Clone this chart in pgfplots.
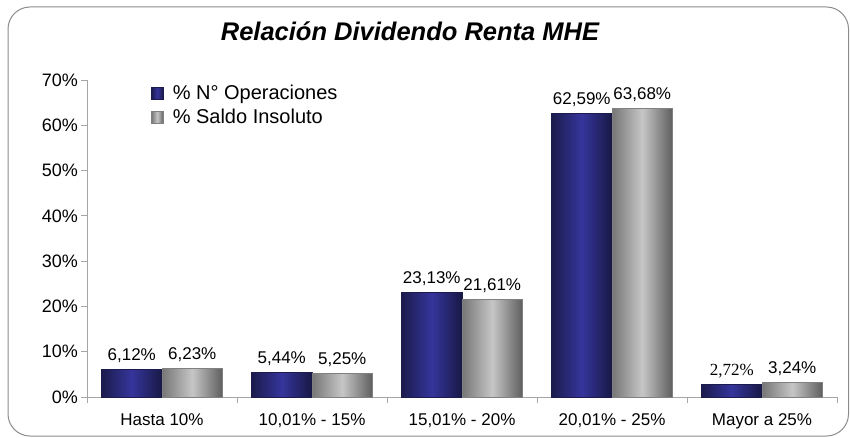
\documentclass[border=0pt]{standalone}
\usepackage{pgfplots}
\pgfplotsset{compat=1.18}
\usepackage{fontspec}
\setmainfont{Liberation Sans}
\newfontfamily\serifL{Liberation Serif}
\definecolor{bluedark}{HTML}{1B1B4D}
\definecolor{bluemid}{HTML}{35359C}
\definecolor{greydark}{HTML}{5E5E5E}
\definecolor{greyleft}{HTML}{767676}
\definecolor{greymid}{HTML}{C6C6C6}
\definecolor{axisgrey}{HTML}{A6A6A6}
\definecolor{framegrey}{HTML}{8C8C8C}
\pgfplotsset{
  blueb/.style={draw=bluedark, line width=0.5pt, left color=bluedark, right color=bluedark!90!black, middle color=bluemid, bar shift=-30.25pt},
  greyb/.style={draw=gray, line width=0.8pt, left color=greyleft, right color=greydark, middle color=greymid, bar shift=30.25pt},
}
\begin{document}
\begin{tikzpicture}[x=1pt,y=1pt]
\useasboundingbox (0,0) rectangle (850,437);
\draw[framegrey, line width=1pt, rounded corners=22pt] (8,1) rectangle (848.5,430);
\node[font=\fontsize{25.5}{30}\selectfont\bfseries\itshape] at (410,406) {Relación Dividendo Renta MHE};
\begin{axis}[
  at={(87pt,40pt)}, anchor=south west,
  scale only axis, width=750pt, height=317pt,
  ymin=0, ymax=70, xmin=-0.5, xmax=4.5,
  ybar, bar width=60.5pt,
  axis lines=left, axis line style={-, axisgrey, line width=1pt},
  ytick={0,10,...,70},
  yticklabel={\pgfmathprintnumber{\tick}\%},
  xtick={-0.5,0.5,1.5,2.5,3.5,4.5},
  xticklabels={,,,,,},
  extra x ticks={0,1,2,3,4},
  extra x tick labels={Hasta 10\%,{10,01\% - 15\%},{15,01\% - 20\%},{20,01\% - 25\%},Mayor a 25\%},
  extra x tick style={major tick length=0pt},
  tick align=outside, major tick length=5.5pt,
  tick style={axisgrey, line width=0.8pt},
  y tick label style={font=\fontsize{18}{20}\selectfont},
  x tick label style={font=\fontsize{17}{20}\selectfont, yshift=-13pt},
  /pgf/number format/assume math mode=true,
  nodes near coords, point meta=explicit symbolic,
  nodes near coords style={font=\fontsize{17}{20}\selectfont, black, yshift=3pt},
  legend style={at={(0.085,0.99)}, anchor=north west, draw=none, fill=none,
    font=\fontsize{20}{24}\selectfont, row sep=4pt, column sep=7pt, inner sep=0pt},
  legend cell align=left,
  legend image code/.code={\draw[#1] (0pt,-6pt) rectangle (12pt,6pt);},
]
% series 1: % N° Operaciones
\addplot[blueb] coordinates {(0,6.12) [{6,12\%}]};
\addplot[greyb] coordinates {(0,6.23) [{6,23\%}]};
\addplot[blueb, forget plot] coordinates {(1,5.44) [{5,44\%}]};
\addplot[blueb, forget plot] coordinates {(2,23.13) [{23,13\%}]};
\addplot[blueb, forget plot] coordinates {(3,62.59) [{62,59\%}]};
\addplot[blueb, forget plot] coordinates {(4,2.72) [{\serifL 2,72\%}]};
% series 2: % Saldo Insoluto
\addplot[greyb, forget plot] coordinates {(1,5.25) [{5,25\%}]};
\addplot[greyb, forget plot] coordinates {(2,21.61) [{21,61\%}]};
\addplot[greyb, forget plot] coordinates {(3,63.68) [{63,68\%}]};
\addplot[greyb, forget plot] coordinates {(4,3.24) [{3,24\%}]};
\legend{\% N° Operaciones, \% Saldo Insoluto}
\end{axis}
\end{tikzpicture}
\end{document}
